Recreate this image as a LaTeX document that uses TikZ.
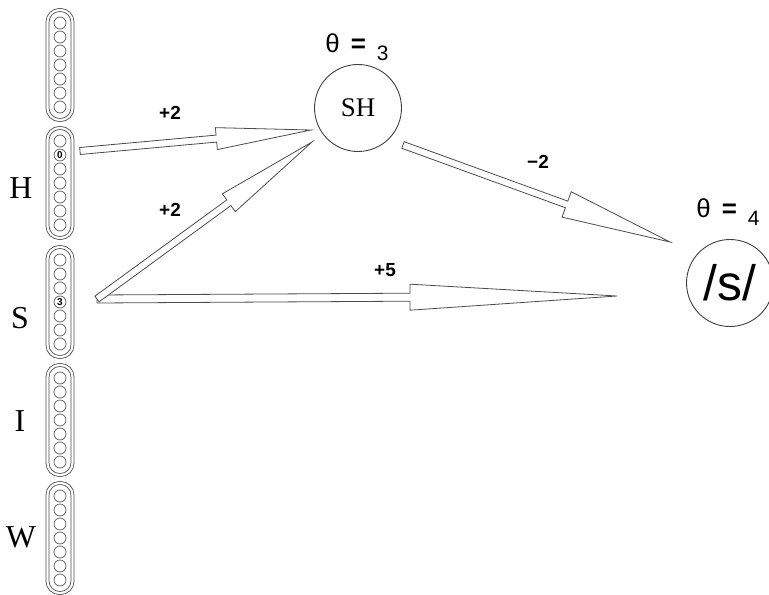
\documentclass[tikz,border=0pt]{standalone}
\usepackage{fontspec}
\setmainfont{Liberation Serif}
\newfontfamily\sansf{Liberation Sans}
\usetikzlibrary{calc}
\tikzset{
  bar/.style={draw=black!70, line width=0.8bp, double=white, double distance=2.2bp,
    rounded corners=12bp, minimum width=25bp, minimum height=110bp, inner sep=0pt},
  unitc/.style={draw=black!65, line width=0.7bp},
  lbl/.style={font=\fontsize{32}{32}\selectfont, inner sep=0pt},
  wt/.style={font=\sansf\bfseries\fontsize{19}{19}\selectfont, inner sep=0pt},
  digit/.style={font=\sansf\bfseries\fontsize{10}{10}\selectfont, inner sep=0pt},
  outnode/.style={draw=black!75, line width=0.9bp, circle, minimum size=87bp, inner sep=0pt},
  thr/.style={font=\sansf\fontsize{26}{26}\selectfont, inner sep=0pt, anchor=base},
  arr/.style={draw=black!70, line width=0.8bp, fill=white, line join=miter},
}
\newcommand\hollowarrow[5]{%
  \path ($(#2)!#5!(#1)$) coordinate (hb);
  \draw[arr] ($(#1)!#3!90:(#2)$) -- ($(hb)!#3!-90:(#1)$) -- ($(hb)!#4!-90:(#1)$)
    -- (#2) -- ($(hb)!#4!90:(#1)$) -- ($(hb)!#3!90:(#1)$) -- ($(#1)!#3!-90:(#2)$) -- cycle;
}
\newcommand\thetalabel[1]{θ\hspace{11bp}\textbf{=}\hspace{11bp}\raisebox{-0.3em}{\fontsize{21}{21}\selectfont #1}}
\begin{document}
\begin{tikzpicture}[x=1bp,y=-1bp]
\useasboundingbox (0,0) rectangle (769,595);
% input banks
\foreach \n/\yy in {b0/65, bH/183, bS/302, bI/420, bW/538} {
  \node[bar] (\n) at (60,\yy) {};
  \foreach \k in {-3,...,3} \draw[unitc] (60,\yy+14*\k) circle (6bp);
}
\node[digit] (d0) at (60,155) {0};
\node[digit] (d3) at (60,302) {3};
% bank labels
\node[lbl] (lH) at (21,188) {H};
\node[lbl] (lS) at (20,318) {S};
\node[lbl] (lI) at (20,421) {I};
\node[lbl] (lW) at (21,537) {W};
% output units
\node[outnode, font=\fontsize{27}{27}\selectfont] (SH) at (358,108) {SH};
\node[outnode, font=\sansf\fontsize{50}{50}\selectfont] (s) at (730,283) {/s/};
\node[thr] (t3) at (357,53) {\thetalabel{3}};
\node[thr] (t4) at (728,218) {\thetalabel{4}};
% connector end points
\coordinate (a1s) at (80,151);
\coordinate (a1t) at (311,130);
\coordinate (a2s) at (97,299);
\coordinate (a2t) at (312,142);
\coordinate (a3s) at (97,299);
\coordinate (a3t) at (617,296);
\coordinate (a4s) at (403,145);
\coordinate (a4t) at (670,242);
% connectors
\hollowarrow{a1s}{a1t}{3.5bp}{11bp}{95bp}
\hollowarrow{a3s}{a3t}{4bp}{13bp}{207bp}
\hollowarrow{a2s}{a2t}{3.5bp}{11bp}{103bp}
\hollowarrow{a4s}{a4t}{3.5bp}{13.5bp}{110bp}
% weights
\node[wt] (w1) at (170,113) {+2};
\node[wt] (w2) at (170,210) {+2};
\node[wt] (w3) at (385,270) {+5};
\node[wt] (w4) at (538,162) {−2};
\end{tikzpicture}
\end{document}
